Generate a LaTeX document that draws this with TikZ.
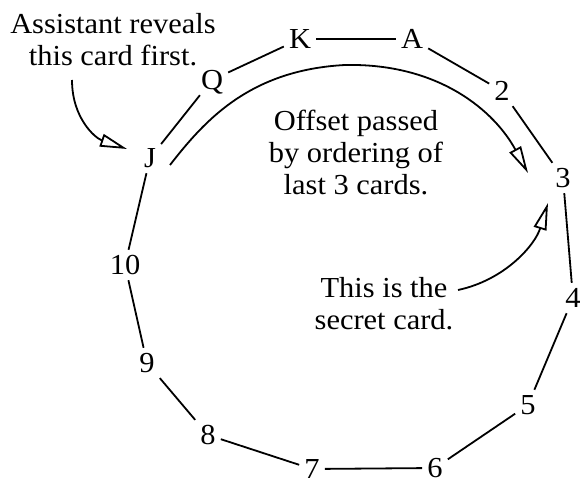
\documentclass[tikz,border=0pt]{standalone}
\usepackage{fontspec}
\setmainfont[FakeStretch=1.05]{Liberation Serif}
\usetikzlibrary{arrows.meta}
\begin{document}
\begin{tikzpicture}[x=1pt,y=-1pt,
  card/.style={font=\fontsize{29}{32}\selectfont, text height=20pt, text depth=0pt, inner sep=5pt},
  note/.style={font=\fontsize{29}{32}\selectfont, align=center, inner sep=0pt},
  link/.style={line width=1.8pt},
  pointer/.style={line width=1.8pt, -{Triangle[open,length=27pt,width=13pt,line width=1.8pt]}}]
\useasboundingbox (0,0) rectangle (582,486);
% cards
\node[card] (cK) at (300,39) {K};
\node[card] (cA) at (412,39) {A};
\node[card] (c2) at (502,91) {2};
\node[card] (c3) at (563,178) {3};
\node[card] (c4) at (573,298) {4};
\node[card] (c5) at (528,405) {5};
\node[card] (c6) at (435,468) {6};
\node[card, inner ysep=1.5pt] (c7) at (312,469) {7};
\node[card] (c8) at (208,435) {8};
\node[card] (c9) at (147,363) {9};
\node[card] (c10) at (125,265) {10};
\node[card] (cJ) at (150,158) {J};
\node[card] (cQ) at (212,80) {Q};
% ring
\draw[link] (cK) -- (cA) -- (c2) -- (c3) -- (c4) -- (c5) -- (c6) -- (c7)
  -- (c8) -- (c9) -- (c10) -- (cJ) -- (cQ) -- (cK);
% notes
\node[note] (n1) at (113,40) {Assistant reveals\\this card first.};
\node[note] (n2) at (356,152) {Offset passed\\by ordering of\\last 3 cards.};
\node[note] (n3) at (384,304) {This is the\\secret card.};
% pointers
\draw[pointer] ([shift={(20,7)}]cJ.center) .. controls (205,120) and (250,70) .. (345,65)
  .. controls (440,63) and (495,112) .. ([shift={(-35,-5)}]c3.center);
\draw[pointer] ([shift={(-41,40)}]n1.center) .. controls (72,118) and (95,138) .. ([shift={(-23,-9)}]cJ.center);
\draw[pointer] ([shift={(74,-14)}]n3.center) .. controls (505,280) and (535,245) .. ([shift={(-15,25)}]c3.center);
\end{tikzpicture}
\end{document}
